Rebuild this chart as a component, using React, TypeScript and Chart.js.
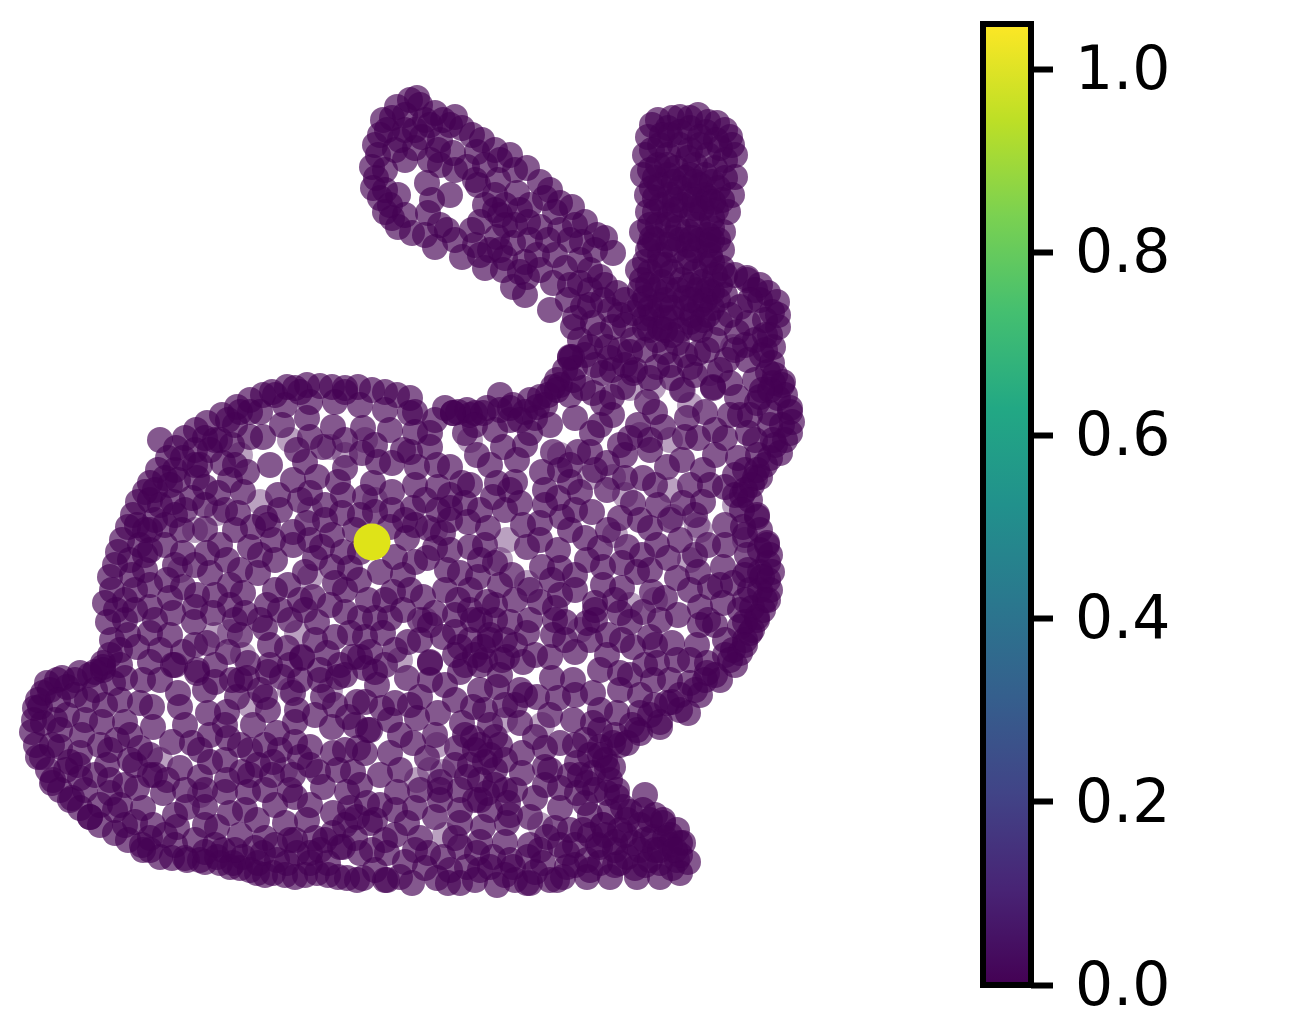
import React, { useEffect, useRef } from "react";
import { Chart, registerables } from "chart.js";

Chart.register(...registerables);

type P = [number, number];

const leftEar: P[] = [
  [417,98],[397,107],[383,120],[387,130],[375,145],[372,167],[373,188],[385,212],[398,227],[412,233],[435,247],[447,230],[462,257],[485,268],[472,230],[485,205],[513,287],[525,295],[550,310],[527,277],[503,270],[450,125],[472,135],[495,150],[500,160],[527,168],[540,182],[560,203],[572,207],[585,222],[605,238],[613,253],[427,183],[428,213],[450,195],[398,195],[405,160],[422,137],[440,165],[467,167],[478,185],[498,180],[517,193],[520,210],[513,243],[497,237],[490,250],[540,227],[555,255],[537,255],[553,283],[580,260],[582,242],[560,230],[545,198],[453,153],[477,152],[435,113],[455,117],
  [410,100],[420,105],[392,118],[380,135],[378,155],[376,178],[380,198],[392,218],[405,130],[425,120],[443,120],[500,215],[475,245],[505,225],[530,240],[525,262],[570,285],[568,300],[575,318],[595,250],[440,140],[415,148],[395,150],[485,165],
  [405,115],[430,125],[462,128],[482,140],[510,155],[515,170],[550,190],[555,212],[575,225],[597,235],[400,140],[415,130],[438,150],[455,170],[430,160],[385,170],[475,180],[495,195],[505,205],[530,205],[528,222],[548,240],[570,240],[505,258],[520,272],[540,270],[565,268],[590,270],[440,225],[455,240],[480,255],[500,250],[515,225],[480,222],[495,210],[432,200],[425,235],[405,215],[390,205],[385,190],
];

const rightEar: P[] = [
  [680,117],[698,115],[717,123],[730,137],[735,155],[735,177],[732,195],[728,212],[723,232],[658,120],[648,137],[645,155],[643,175],[647,195],[648,212],[642,232],
  [668,128],[690,128],[706,132],[660,145],[680,145],[700,145],[720,148],[658,165],[676,168],[695,165],[715,168],[660,185],[680,188],[700,185],[718,188],[662,205],[682,205],[702,208],[716,210],[658,225],[678,228],[698,225],[712,228],
  [650,245],[668,245],[688,245],[708,245],[722,250],[645,262],[665,265],[685,262],[705,265],[722,268],[642,280],[662,282],[682,280],[702,282],[720,285],[645,298],[665,300],[685,298],[705,300],[718,300],[652,315],[672,318],[692,315],[708,315],[660,328],[680,330],[695,328],
  [670,135],[690,150],[668,175],[690,175],[705,195],[670,215],[692,215],[655,240],[680,240],[700,240],[660,255],[690,258],[710,255],[650,272],[672,272],[695,272],[715,275],[655,290],[678,290],[698,290],[712,292],[660,305],[685,308],[700,305],[640,290],[638,270],[665,318],[690,322],
  [652,125],[672,118],[690,118],[708,122],[725,130],[732,145],[652,150],[668,155],[688,158],[708,155],[725,160],[650,170],[667,165],[685,178],[705,175],[725,178],[652,188],[670,195],[690,195],[708,198],[722,200],[655,212],[675,210],[695,208],[712,218],[650,225],[668,225],[688,232],[708,235],[718,240],
  [648,250],[660,265],[675,250],[695,250],[712,262],[648,285],[668,290],[690,285],[708,290],[725,275],[650,308],[672,308],[692,300],[712,308],[640,305],[725,295],[645,318],[700,330],[672,335],[650,330],
  [662,135],[680,132],[700,137],[716,140],[655,178],[674,182],[695,182],[712,182],[655,198],[675,200],[695,200],[713,202],[652,238],[672,238],[692,238],[712,240],
];

const head: P[] = [
  [747,278],[768,293],[777,302],[778,327],[773,347],[772,363],[782,385],[790,408],[783,382],[790,412],[790,433],[780,453],[760,477],[757,517],[767,543],[768,563],[768,580],[768,600],[757,620],[750,633],[740,653],
  [635,370],[727,360],[698,353],[670,365],[610,358],[612,370],[572,357],[713,387],[730,383],[748,323],[737,332],[720,323],[740,307],[747,280],[760,397],[773,383],
  [580,283],[600,277],[617,293],[603,300],[583,307],[573,327],[593,323],[613,327],[633,313],[633,340],[657,340],[677,343],[703,320],[607,347],[590,347],[570,358],[603,373],[573,380],[553,387],[593,393],[612,397],[633,373],[657,367],[690,367],[707,350],
  [760,285],[772,312],[765,335],[762,355],[768,372],[778,398],[782,425],[775,445],[765,465],[752,485],[742,495],[760,530],[760,550],[760,572],[760,590],[752,608],[745,622],[590,290],[610,310],[625,325],[600,335],[580,340],[620,350],[645,328],[665,330],[625,300],
  [778,315],[770,335],[765,350],[775,375],[785,395],[792,422],[785,440],[770,458],[755,478],[745,490],[735,495],[770,555],[772,572],[770,590],[763,610],[752,630],[745,640],[760,300],[755,290],[735,275],[770,390],[770,425],[758,455],[750,300],[755,340],[748,360],[755,380],[765,320],[735,350],
  [590,305],[605,285],[620,315],[585,355],[595,365],[575,368],[625,365],[645,350],[665,352],[685,355],[650,378],[672,378],[695,375],[630,352],[715,340],[730,315],[745,345],[720,370],[750,415],[740,415],[755,440],
  [745,535],[750,500],[748,570],[750,590],[740,610],
];

const neckAndBack: P[] = [
  [570,357],[557,380],[540,397],[513,405],[487,408],[467,410],[445,408],[410,398],[385,392],[358,387],[332,387],[307,385],[287,387],[263,395],[237,407],[207,423],[185,438],[168,458],[150,483],[138,502],[128,527],[118,552],[110,577],[105,603],[108,622],[103,663],
  [160,440],[175,470],[155,520],[140,545],[132,575],[125,600],[128,635],[120,650],[215,440],[235,425],[260,412],[285,405],[310,402],[335,402],[360,405],[385,410],[195,450],[178,480],[160,505],[145,530],[240,412],[275,395],[300,392],[345,392],[548,395],[530,400],[500,410],[565,370],[475,413],
  [112,590],[115,565],[122,540],[133,515],[145,492],[158,470],[176,448],[196,430],[222,415],[250,400],[272,392],[295,388],[320,386],[345,388],[372,390],[397,395],[116,610],[112,640],[110,655],[125,620],[130,560],[137,525],[150,500],[165,478],[183,458],[205,438],[228,420],[250,412],
  [560,385],[545,405],[525,412],[500,395],[470,415],[458,412],[535,418],[510,420],[570,395],[135,590],[145,570],[150,550],[165,525],[185,510],[205,505],[170,485],[195,465],[220,440],[415,412],[435,420],
];

const bodyUpper: P[] = [
  [307,418],[282,425],[333,427],[363,428],[390,430],[410,413],[430,433],[453,413],[297,450],[263,437],[323,447],[362,453],[403,450],[430,447],[270,465],[247,472],[223,463],[293,480],[317,477],[338,482],[392,463],[417,467],[437,465],
  [218,493],[243,492],[278,495],[310,493],[343,495],[373,483],[392,492],[415,485],[438,487],[197,478],[173,502],[192,498],[238,513],[265,518],[307,523],[342,513],[360,515],[392,510],[413,508],[438,510],
  [182,530],[205,529],[235,530],[253,527],[293,532],[332,535],[390,527],[428,528],[183,553],[207,553],[227,560],[250,547],[273,540],[293,545],[315,558],[322,547],[343,552],[407,538],[443,533],
  [167,580],[210,573],[230,585],[258,573],[288,585],[335,583],[332,567],[359,580],[380,572],[403,575],[427,558],[447,570],[197,595],[150,607],[183,587],[243,593],[267,605],[313,597],[368,600],[393,592],[423,597],
  [173,613],[213,613],[245,613],[290,620],[345,612],[375,618],[403,610],[435,613],[194,622],[265,628],[317,622],[350,633],[383,633],[443,637],[207,643],[228,652],[287,648],[302,657],[327,653],[353,657],[370,652],[408,642],[430,663],[150,633],[183,652],[137,647],[248,663],[197,670],
  [250,437],[310,437],[345,440],[415,432],[210,450],[232,445],[200,465],[235,465],[305,462],[345,468],[378,462],[410,452],[375,445],
  [155,490],[205,487],[230,480],[300,500],[325,505],[365,497],[425,500],[450,495],[175,515],[225,510],[280,510],[325,520],[375,512],[405,520],[450,520],
  [150,530],[165,545],[220,545],[268,525],[310,540],[355,530],[415,525],[435,548],[145,555],[195,565],[240,570],[275,560],[305,572],[350,568],[395,557],[415,562],[150,585],[170,598],[215,595],[275,590],[300,600],[345,590],[385,600],[410,590],[445,590],
  [135,610],[155,620],[195,607],[230,605],[260,620],[305,610],[330,605],[360,618],[390,618],[420,620],[455,615],[170,635],[195,645],[240,635],[270,645],[335,637],[365,637],[395,650],[420,640],[455,632],[160,650],[215,665],[270,665],[315,640],[345,675],[385,665],
  [430,625],[455,655],[340,665],[300,680],[240,680],[320,680],[365,668],[290,665],[175,565],[260,555],[360,552],[450,550],[175,665],[235,620],[280,610],
];

const bodyRight: P[] = [
  [453,413],[483,413],[510,408],[537,407],[557,390],[583,388],[603,403],[623,387],[647,402],[682,390],[713,388],[737,397],[757,403],
  [477,455],[465,433],[503,447],[530,433],[553,452],[578,452],[592,433],[612,415],[630,438],[638,425],[663,427],[687,418],[698,438],[725,438],[748,433],[762,390],
  [450,467],[470,485],[497,483],[517,460],[542,472],[570,482],[607,463],[643,478],[667,467],[682,460],[703,470],[738,458],[773,440],[770,413],
  [465,503],[493,497],[520,503],[558,498],[580,492],[607,490],[633,503],[658,505],[683,503],[703,502],[725,487],[757,470],
  [468,522],[488,528],[523,525],[540,523],[562,517],[592,512],[620,518],[650,528],[725,525],[757,515],
  [470,547],[527,547],[558,550],[585,538],[608,530],[627,547],[657,545],[680,540],[708,545],[743,527],[767,545],
  [495,563],[512,575],[542,567],[552,580],[587,560],[603,567],[622,563],[637,572],[677,578],[698,572],[723,567],[747,555],
  [460,573],[478,577],[458,600],[515,600],[540,602],[575,590],[603,585],[622,588],[652,592],[710,587],[733,583],[762,577],
  [487,602],[555,608],[595,603],[620,613],[643,612],[678,615],[700,607],[723,603],[765,600],
  [473,620],[510,622],[527,633],[553,635],[587,623],[608,635],[650,637],[672,643],[697,645],[715,625],[740,627],[757,617],
  [460,647],[483,647],[507,657],[550,657],[575,652],[607,655],[633,647],[657,663],[677,660],[707,663],[733,650],
  [475,425],[495,430],[520,420],[550,425],[575,418],[600,425],[655,412],[705,412],[730,415],[490,465],[525,445],[570,465],[590,452],[625,455],[650,450],[685,437],[715,455],[735,475],
  [462,483],[515,482],[545,490],[595,470],[625,478],[655,485],[690,485],[710,485],[745,470],[505,510],[545,505],[575,510],[640,520],[670,520],[695,515],[742,510],[450,508],
  [485,545],[540,540],[570,530],[600,548],[642,555],[668,558],[695,555],[725,545],[480,560],[560,568],[575,575],[650,570],[690,590],[720,585],[745,575],[745,600],
  [470,590],[500,585],[530,590],[560,595],[615,600],[665,598],[708,620],[565,622],[595,620],[630,622],[660,620],[490,635],[515,645],[535,655],[565,640],[590,640],[622,640],[700,625],[725,640],[690,660],[655,645],
  [480,510],[510,490],[560,470],[620,445],[650,440],[715,430],[530,620],[555,620],[595,610],[470,610],[495,620],[485,660],[470,640],[505,640],[495,605],[465,665],
];

const tailAndHaunch: P[] = [
  [103,667],[80,673],[57,680],[43,693],[35,708],[32,732],[38,757],[52,783],[70,800],[90,817],[115,833],[142,845],[160,857],[185,858],[47,683],[40,707],[43,723],[42,757],[53,780],[72,798],[103,670],[90,675],[67,687],[113,683],
  [173,665],[150,662],[197,673],[215,682],[247,678],[268,672],[282,677],[302,658],[338,677],[360,657],[143,680],[160,680],[178,693],[237,697],[265,697],[293,693],[323,697],[357,702],[152,707],[180,707],[208,713],[227,712],[268,710],[297,710],[348,717],
  [87,700],[67,715],[102,722],[125,722],[153,727],[185,725],[210,735],[228,738],[253,725],[277,733],[295,722],[332,727],[368,730],[82,735],[60,747],[117,740],[140,748],[172,742],[192,743],[250,750],[310,747],[333,753],[358,748],
  [80,753],[107,765],[135,765],[180,768],[210,762],[273,762],[300,757],[318,772],[353,772],[80,778],[110,793],[137,788],[167,780],[200,777],[227,780],[242,772],[272,775],[293,775],[323,787],[347,792],
  [143,808],[163,793],[187,807],[205,807],[225,792],[248,792],[275,805],[295,797],[90,817],[115,810],[257,820],[230,813],[285,823],[307,820],[333,813],[217,827],[177,827],[153,825],[333,833],[357,817],
  [60,790],[80,808],[100,825],[128,840],[150,850],[172,858],[200,860],[66,770],[48,770],[36,745],[34,720],[38,700],[50,690],[62,678],[75,680],[95,672],[58,700],[55,720],[52,745],[70,762],[85,790],[100,805],[125,825],[150,838],[175,845],
  [125,678],[120,700],[105,705],[140,703],[85,720],[110,750],[130,735],[150,755],[125,785],[95,775],[120,805],[155,775],[185,790],[205,790],[175,815],[135,822],[205,690],[232,680],[225,725],[240,745],[265,745],[295,742],[315,715],[335,705],[375,672],[320,670],[260,690],
  [200,750],[225,760],[258,765],[280,750],[310,765],[338,770],[245,810],[265,790],[310,805],[350,808],[205,825],[195,840],[240,835],[265,838],[290,840],[315,838],[345,825],[165,835],
  [150,775],[110,780],[130,760],[100,745],[290,790],[250,775],[75,695],[60,730],[78,765],[95,690],[120,665],
];

const bellyCentre: P[] = [
  [430,662],[407,678],[377,685],[365,702],[395,703],[420,697],[445,685],[460,672],[480,665],[502,660],[523,662],[552,678],[573,680],[593,693],[620,673],[653,680],[690,683],[707,673],
  [537,697],[558,698],[497,687],[473,707],[438,713],[417,718],[382,708],[370,730],[400,735],[413,743],[462,723],[485,710],[495,737],[520,723],[535,737],[573,720],[560,743],[617,713],[620,690],[640,713],[667,703],[688,713],[593,723],[600,747],
  [427,758],[390,753],[365,753],[457,748],[473,738],[485,762],[522,753],[545,767],[577,763],[593,773],[607,768],[613,743],[637,730],[660,727],
  [380,775],[440,782],[397,792],[367,803],[467,777],[487,793],[522,773],[560,788],[585,803],[607,793],[617,797],[587,783],
  [415,808],[435,817],[460,810],[508,803],[535,798],[560,808],[530,817],[507,823],[483,827],[460,823],[370,823],[407,823],[583,830],[603,825],
  [480,620],[490,640],[475,655],[500,675],[480,690],[490,725],[475,750],[495,770],[480,780],[505,790],[490,810],[745,645],[735,665],[720,680],[700,695],[680,710],[660,722],[640,733],[620,745],[600,755],[725,655],[705,680],[680,695],[655,705],
  [730,660],[715,675],[695,690],[672,702],[650,715],[632,725],[615,735],[605,760],[600,730],[585,740],[640,695],[670,680],[645,665],[600,670],[575,695],[600,710],[630,675],[550,715],[525,695],[515,705],[455,700],[430,680],[410,705],[390,720],[435,735],[455,765],[505,760],[545,748],[570,775],[545,785],[510,815],
  [400,770],[420,790],[380,805],[440,800],[475,800],[395,810],[360,785],[345,750],[355,725],
  [520,690],[505,705],[515,790],[550,770],[375,820],[440,790],[460,790],[480,745],[490,755],[470,765],[495,785],[480,800],[465,735],[500,745],[590,755],[575,745],[610,780],[595,790],[580,775],
];

const feet: P[] = [
  [220,863],[240,868],[257,873],[273,873],[295,877],[317,873],[338,877],[357,880],[310,853],[340,847],[223,850],[243,857],[258,863],[277,860],[297,853],[320,850],[343,847],[217,857],[233,863],[263,853],[287,863],[310,863],[328,863],[360,853],[143,850],[187,860],
  [598,845],[627,820],[643,810],[663,820],[677,830],[683,843],[688,862],[653,837],[633,843],[627,857],[660,863],[677,860],[623,807],[617,790],[663,823],[680,843],[600,847],[577,793],[613,767],[627,743],
  [372,850],[387,853],[415,850],[428,853],[460,847],[477,853],[493,857],[510,860],[528,857],[547,837],[567,853],[587,860],[443,857],
  [385,880],[400,877],[412,883],[437,878],[448,883],[460,883],[475,880],[497,885],[515,880],[530,883],[550,880],[563,877],[587,877],[610,877],[637,877],[660,877],[680,873],[363,878],[490,867],[513,867],[467,867],[543,863],[567,867],[600,863],[620,863],[387,880],[527,883],[557,880],
  [640,825],[655,850],[670,845],[645,865],[625,835],[650,820],[665,838],[640,850],
  [205,862],[230,867],[250,870],[265,875],[285,875],[305,875],[328,875],[347,878],[375,870],[405,862],[425,868],[450,870],[480,870],[505,875],[535,872],[575,865],[590,870],[615,865],[635,868],[650,860],[672,868],[615,850],[620,830],[645,795],[610,812],[590,815],[570,830],[560,845],[540,850],
  [215,845],[235,850],[255,848],[275,845],[295,840],[325,840],[355,838],[385,840],[205,852],[455,838],[480,842],[505,842],[530,845],[555,828],[575,845],[590,835],[605,835],[655,815],[670,835],[680,855],[645,840],[630,812],[615,842],[660,850],[675,850],[420,838],[395,835],
];

const faintPoints: P[] = [
  [260,502],[217,513],[310,577],[230,632],[297,633],[243,655],[330,447],[437,745],[417,780],[443,772],[542,725],[603,825],[507,540],[590,477],[613,477],[697,525],[673,517],[527,583],[710,373],[683,390],[653,387],[630,388],[733,347],[470,440],[345,455],[375,500],[215,635],[290,440],[670,490],[425,620],[400,660],[625,495],[735,505],[580,630],[540,825],[690,560],[615,535],[745,540],[350,820],[285,770],[445,835],
  [180,570],[290,690],[250,705],[330,690],[160,760],[200,795],[430,770],[505,720],[655,600],[630,605],[700,530],[500,560],[640,435],[670,440],[690,405],[560,455],[240,455],[365,440],[195,530],[310,510],[435,530],
];

const sourcePoint: P[] = [[372, 542]];

const colorbarMax = 1.05;
const colorbarTicks = [0, 0.2, 0.4, 0.6, 0.8, 1.0];
const viridisStops = ["#440154", "#482475", "#414487", "#355f8d", "#2a788e", "#21918c", "#22a884", "#44bf70", "#7ad151", "#bddf26", "#fde725"];

const solidPoints = [...leftEar, ...rightEar, ...head, ...neckAndBack, ...bodyUpper, ...bodyRight, ...tailAndHaunch, ...bellyCentre, ...feet];
const toXY = (p: P) => ({ x: p[0], y: p[1] });

export default function App() {
  const mainRef = useRef<HTMLCanvasElement>(null);
  const barRef = useRef<HTMLCanvasElement>(null);

  useEffect(() => {
    const main = new Chart(mainRef.current!, {
      type: "scatter",
      data: {
        datasets: [
          { data: sourcePoint.map(toXY), backgroundColor: "#dfe318", pointRadius: 18.5, borderWidth: 0, order: 0 },
          { data: solidPoints.map(toXY), backgroundColor: "rgba(68,1,84,0.66)", pointRadius: 13, borderWidth: 0, order: 1 },
          { data: faintPoints.map(toXY), backgroundColor: "rgba(68,1,84,0.37)", pointRadius: 13, borderWidth: 0, order: 2 },
        ],
      },
      options: {
        responsive: false,
        animation: false,
        layout: { padding: 0, autoPadding: false },
        plugins: { legend: { display: false }, tooltip: { enabled: false } },
        scales: {
          x: { type: "linear", min: 0, max: 1300, display: false },
          y: { type: "linear", min: 0, max: 1030, reverse: true, display: false },
        },
      },
    });

    const framePlugin = {
      id: "frame",
      afterDraw(c: Chart) {
        const { ctx, chartArea: a } = c;
        ctx.save();
        ctx.strokeStyle = "#000";
        ctx.lineWidth = 6;
        ctx.strokeRect(a.left, a.top, a.right - a.left, a.bottom - a.top);
        ctx.restore();
      },
    };

    const bar = new Chart(barRef.current!, {
      type: "bar",
      data: {
        labels: ["colorbar"],
        datasets: [
          {
            data: [colorbarMax],
            barPercentage: 1,
            categoryPercentage: 1,
            borderWidth: 0,
            backgroundColor: (ctx: any) => {
              const a = ctx.chart.chartArea;
              if (!a) return viridisStops[0];
              const g = ctx.chart.ctx.createLinearGradient(0, a.bottom, 0, a.top);
              viridisStops.forEach((s, i) => g.addColorStop(i / (viridisStops.length - 1), s));
              return g;
            },
          },
        ],
      },
      options: {
        responsive: false,
        animation: false,
        layout: { padding: { left: 23, top: 24, bottom: 45, right: 0 } },
        plugins: { legend: { display: false }, tooltip: { enabled: false } },
        scales: {
          x: { display: false },
          y: {
            position: "right",
            min: 0,
            max: colorbarMax,
            afterFit: (s: any) => {
              s.width = 269;
              s.paddingTop = 0;
              s.paddingBottom = 0;
            },
            afterBuildTicks: (s: any) => {
              s.ticks = colorbarTicks.map((value) => ({ value }));
            },
            border: { display: false },
            grid: { drawOnChartArea: false, drawTicks: true, tickLength: 22, tickWidth: 6, tickColor: "#000" },
            ticks: {
              color: "#000",
              padding: 22,
              labelOffset: 4,
              font: { family: "'DejaVu Sans'", size: 60 },
              callback: (v: any) => Number(v).toFixed(1),
            },
          },
        },
      },
      plugins: [framePlugin],
    });

    return () => {
      main.destroy();
      bar.destroy();
    };
  }, []);

  return (
    <div style={{ position: "absolute", left: 0, top: 0, width: 1300, height: 1030, background: "#fff", overflow: "hidden" }}>
      <canvas ref={mainRef} width={1300} height={1030} style={{ position: "absolute", left: 0, top: 0, width: 1300, height: 1030 }} />
      <canvas ref={barRef} width={340} height={1030} style={{ position: "absolute", left: 960, top: 0, width: 340, height: 1030 }} />
    </div>
  );
}
